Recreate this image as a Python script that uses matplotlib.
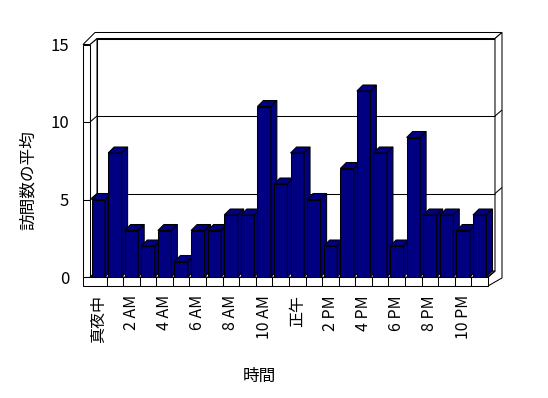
import matplotlib
matplotlib.use("Agg")
import matplotlib.pyplot as plt
from matplotlib.patches import Polygon

plt.rcParams['font.family'] = ['Noto Sans CJK JP', 'DejaVu Sans']

hours = list(range(24))
visits = [5, 8, 3, 2, 3, 1, 3, 3, 4, 4, 11, 6, 8, 5, 2, 7, 12, 8, 2, 9, 4, 4, 3, 4]
tick_pos = [0, 2, 4, 6, 8, 10, 12, 14, 16, 18, 20, 22]
tick_labels = ['真夜中', '2 AM', '4 AM', '6 AM', '8 AM', '10 AM', '正午',
               '2 PM', '4 PM', '6 PM', '8 PM', '10 PM']
y_ticks = [0, 5, 10, 15]
x_title = '時間'
y_title = '訪問数の平均'

NAVY = '#000080'
W, H = 548, 398
fig = plt.figure(figsize=(W / 100, H / 100), dpi=100)
# front plane: x -0.5 -> px 90, 23.5 -> px 488 ; y 0 -> px 277, 15 -> px 44.5
ax = fig.add_axes([90 / W, (H - 277) / H, 398 / W, 232.5 / H])
ax.set_xlim(-0.5, 23.5)
ax.set_ylim(0, 15)
for s in ax.spines.values():
    s.set_visible(False)

PXX = 398 / 24.0
PXY = 232.5 / 15.0
DX, DY = 7 / PXX, 6 / PXY          # wall depth
TW = 7 / PXX                         # left wall thickness
FT = 9 / PXY                         # floor thickness
BDX, BDY = 6 / PXX, 6 / PXY          # bar depth
BW = 13.5 / PXX
X0, X1, Y0, Y1 = -0.5, 23.5, 0, 15
LW = 0.75

def poly(pts, z, fc='white'):
    ax.add_patch(Polygon(pts, closed=True, facecolor=fc, edgecolor='black',
                         linewidth=LW, zorder=z, clip_on=False, joinstyle='miter'))

def line(xs, ys, z=1.5):
    ax.plot(xs, ys, color='black', linewidth=LW, zorder=z, clip_on=False,
            solid_capstyle='butt')

# back wall
poly([(X0 + DX, Y0 + DY), (X1 + DX, Y0 + DY), (X1 + DX, Y1 + DY), (X0 + DX, Y1 + DY)], 1)
# left wall plane
poly([(X0, Y0), (X0 + DX, Y0 + DY), (X0 + DX, Y1 + DY), (X0, Y1)], 1)
# left wall front edge
poly([(X0 - TW, Y0), (X0, Y0), (X0, Y1), (X0 - TW, Y1)], 1)
# top of walls
poly([(X0 - TW, Y1), (X0 - TW + 2 * DX - 2 / PXX, Y1 + 2 * DY), (X1 + 2 * DX, Y1 + 2 * DY),
      (X1 + DX, Y1 + DY), (X0 + DX, Y1 + DY), (X0, Y1)], 1)
# right side of back wall + floor end
poly([(X1 + DX, Y0 + DY), (X1 + DX, Y1 + DY), (X1 + 2 * DX, Y1 + 2 * DY),
      (X1 + 2 * DX, Y0 - 0.06), (X1, -FT), (X1, Y0)], 1)
line([X1, X1 + DX], [Y0, Y0 + DY], 1.2)
# floor top
poly([(X0, Y0), (X1, Y0), (X1 + DX, Y0 + DY), (X0 + DX, Y0 + DY)], 1.1)
# floor front face
poly([(X0 - TW, -FT), (X1, -FT), (X1, Y0), (X0 - TW, Y0)], 1.1)
for k in range(1, 24):
    line([X0 + k, X0 + k], [-FT, Y0], 1.2)

# gridlines
for v in [5, 10]:
    line([X0 + DX, X1 + DX], [v + DY, v + DY])
    line([X0, X0 + DX], [v, v + DY])
    line([X1 + DX, X1 + 2 * DX], [v + DY, v + 2 * DY])
for v in [0, 5, 10]:
    line([X0 - TW, X0], [v, v])

# bars
bars = ax.bar(hours, visits, width=BW, color=NAVY, edgecolor='black', linewidth=LW)
for i, (b, x, v) in enumerate(zip(bars, hours, visits)):
    z = 3 + i * 0.01
    b.set_zorder(z)
    xl, xr = x - BW / 2, x + BW / 2
    poly([(xl, v), (xr, v), (xr + BDX, v + BDY), (xl + BDX, v + BDY)], z, NAVY)
    poly([(xr, 0), (xr + BDX, BDY), (xr + BDX, v + BDY), (xr, v)], z, NAVY)

# ticks & labels
ax.set_yticks(y_ticks)
ax.set_yticklabels([str(t) for t in y_ticks], fontsize=12)
ax.set_xticks(tick_pos)
ax.set_xticklabels(tick_labels, rotation=90, fontsize=11.5, va='top', ha='center')
ax.tick_params(axis='y', length=0, pad=15)
ax.tick_params(axis='x', length=0, pad=13)

ax.set_xlabel(x_title, fontsize=12)
ax.set_ylabel(y_title, fontsize=12)
ax.xaxis.set_label_coords((259 - 90) / 398, (277 - 376) / 232.5)
ax.xaxis.label.set_va('center')
ax.yaxis.set_label_coords((28 - 90) / 398, (277 - 180) / 232.5)
ax.yaxis.label.set_va('center')

fig.savefig('out.png', dpi=100, facecolor='white')
